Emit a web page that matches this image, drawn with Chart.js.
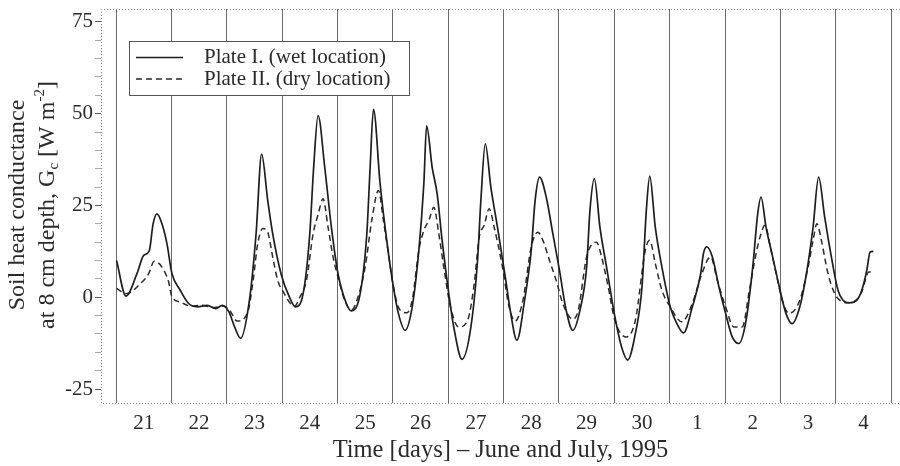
<!DOCTYPE html>
<html>
<head>
<meta charset="utf-8">
<script src="https://cdn.jsdelivr.net/npm/chart.js@4"></script>
<style>
    html, body { margin: 0; padding: 0; background: #fff; }
    #wrap { width: 900px; height: 466px; }
</style>
</head>
<body>
<div id="wrap"><canvas id="heatChart" width="900" height="466"></canvas></div>
<script>
// day labels, centred in each day (June 21 .. July 4)
const dayLabels = ['21', '22', '23', '24', '25', '26', '27', '28', '29', '30', '1', '2', '3', '4'];
const yTickLabels = [-25, 0, 25, 50, 75];

// time in days since June 21 00:00, heat flux in W m-2
const wetTime = [0.01, 0.18, 0.38, 0.5, 0.6, 0.67, 0.74, 0.83, 0.92, 1.01, 1.16, 1.31, 1.47, 1.65, 1.8, 1.92, 2.04, 2.14, 2.25,
    2.41, 2.53, 2.63, 2.74, 2.83, 2.98, 3.13, 3.24, 3.38, 3.5, 3.57, 3.65, 3.77, 3.89, 4.01, 4.16, 4.25,
    4.41, 4.53, 4.59, 4.65, 4.77, 4.89, 5.01, 5.1, 5.22, 5.35, 5.47, 5.56, 5.61, 5.71, 5.8, 5.89, 6.01, 6.1, 6.25,
    6.41, 6.53, 6.59, 6.67, 6.77, 6.89, 7.04, 7.12, 7.24, 7.38, 7.5, 7.57, 7.65, 7.77, 7.89, 8.01, 8.13, 8.25,
    8.38, 8.5, 8.56, 8.64, 8.74, 8.86, 9.01, 9.13, 9.24, 9.38, 9.5, 9.58, 9.64, 9.74, 9.86, 10.01, 10.13, 10.25,
    10.41, 10.56, 10.61, 10.67, 10.77, 10.89, 11.01, 11.13, 11.25, 11.38, 11.5, 11.59, 11.65, 11.74, 11.86, 11.98,
    12.1, 12.21, 12.35, 12.47, 12.59, 12.69, 12.8, 12.92, 13.04, 13.13, 13.25, 13.38, 13.47, 13.56, 13.62, 13.68];
const wetFlux = [10, 0.3, 6.5, 11.4, 12.6, 20, 22.7, 20, 14.6, 6.5, 1.9, -1.7, -2.6, -2.2, -3.1, -2.2, -4, -8, -11.2,
    -0.8, 17.3, 39, 26.4, 17.3, 6.4, 0.1, -2.6, 1, 17.3, 35.4, 49.5, 35.4, 19.1, 6.4, -1.7, -3.7,
    1, 17.3, 35.4, 51.2, 30.9, 15.5, 2.8, -4.4, -9, -2.6, 12.8, 30.9, 46.7, 35.4, 28.2, 15.5, 1, -8.1, -16.9,
    -8.1, 10, 26.4, 41.8, 30, 19.1, 4.6, -3.5, -11.7, -0.8, 12.8, 26.4, 32.7, 27.3, 17.3, 7.3, -3.5, -9,
    -3.5, 8.2, 23.6, 32.3, 19.1, 8.2, -5.3, -13.5, -17.1, -9.9, 2.8, 24, 33, 19.1, 8.2, -2.6, -7.2, -9.7,
    -2.6, 6.4, 11.9, 13.7, 11, 2.8, -4.4, -10.8, -12.6, -6.3, 8.2, 22.7, 27.3, 19.1, 11, 2.8,
    -4.4, -7.2, -2.6, 6.4, 19.1, 32.7, 21.8, 11, 1.9, -0.8, -1.5, -0.8, 1.9, 7.3, 12.3, 12.5];

const dryTime = [0.01, 0.19, 0.44, 0.59, 0.69, 0.83, 0.95, 1.01, 1.16, 1.35, 1.55, 1.75, 1.94, 2.05, 2.19,
    2.38, 2.48, 2.56, 2.65, 2.74, 2.83, 2.92, 3.04, 3.13, 3.22, 3.32, 3.44, 3.56, 3.65, 3.74, 3.83, 3.92, 4.01,
    4.13, 4.25, 4.38, 4.5, 4.62, 4.74, 4.83, 4.92, 5.01, 5.13, 5.25, 5.35, 5.47, 5.56, 5.65, 5.74, 5.83, 5.92,
    6.04, 6.19, 6.35, 6.47, 6.56, 6.65, 6.74, 6.83, 6.98, 7.1, 7.21, 7.35, 7.5, 7.62, 7.71, 7.83, 7.95, 8.07,
    8.25, 8.35, 8.5, 8.68, 8.77, 8.89, 9.01, 9.22, 9.38, 9.56, 9.64, 9.74, 9.86, 10.01, 10.22, 10.41, 10.56,
    10.74, 10.86, 11.01, 11.16, 11.31, 11.44, 11.56, 11.65, 11.72, 11.83, 11.95, 12.04, 12.16, 12.35, 12.5,
    12.59, 12.66, 12.74, 12.86, 12.98, 13.07, 13.2, 13.35, 13.47, 13.56, 13.59, 13.65];
const dryFlux = [2.4, 1, 3.7, 6.4, 9.8, 8.2, 4.2, 0.1, -1.3, -2.4, -2.2, -2.8, -2.4, -3.5, -6.5,
    -4, 5, 14.6, 18.7, 17.7, 11, 4.6, 1, -1.3, -2.5, 0, 4.6, 17.3, 22.5, 26.8, 19.1, 11, 5.5,
    -0.8, -3.5, 0.5, 8.2, 21, 29.1, 20.9, 11.9, 2.8, -3.5, -4.2, -0.8, 12.8, 18.2, 20.9, 24.5, 17.3, 8.2,
    -2.6, -8.1, -6.3, 3.7, 16.4, 19.6, 24.1, 19.1, 8.2, -2.6, -6.5, -0.8, 13.7, 17.7, 15.5, 10, 4.6, -1.7,
    -6, -3.5, 11, 15, 11, 2.8, -6.3, -10.8, -6.3, 12.8, 15.5, 9.2, 1.9, -2.6, -6.7, -1.7, 5.5,
    11, 4.6, -2.6, -8.1, -8.1, 1.9, 11.9, 17.3, 19.6, 12.8, 4.6, -1.2, -4.4, -0.8, 8.2,
    15.5, 20, 15.5, 6.4, 1, -0.8, -1.5, -1, 1.5, 6, 6.9, 6.9];

const serif = '"Liberation Serif", "Times New Roman", serif';
const inkColor = '#2a2a2a';

// dotted plot frame, y axis title with sub/superscript, and boxed legend
const extrasPlugin = {
    id: 'extras',
    afterDraw(chart) {
        const ctx = chart.ctx;
        const area = chart.chartArea;
        ctx.save();

        // dotted frame: top, left, bottom
        ctx.strokeStyle = '#8a8a8a';
        ctx.lineWidth = 1;
        ctx.setLineDash([1, 2]);
        ctx.beginPath();
        ctx.moveTo(area.right, area.top + 0.5);
        ctx.lineTo(area.left + 0.5, area.top + 0.5);
        ctx.lineTo(area.left + 0.5, area.bottom + 0.5);
        ctx.lineTo(area.right, area.bottom + 0.5);
        ctx.stroke();
        ctx.setLineDash([]);

        // y axis title, two rotated lines
        const midY = (area.top + area.bottom) / 2 - 1;
        const lines = [
            { x: 18, parts: [{ t: 'Soil heat conductance' }] },
            { x: 48, parts: [{ t: 'at 8 cm depth, G' }, { t: 'c', sub: true }, { t: ' [W m' }, { t: '-2', sup: true }, { t: ']' }] }
        ];
        ctx.fillStyle = inkColor;
        ctx.textBaseline = 'middle';
        lines.forEach(line => {
            let total = 0;
            line.parts.forEach(p => {
                ctx.font = (p.sub || p.sup ? 15 : 24) + 'px ' + serif;
                p.w = ctx.measureText(p.t).width;
                total += p.w;
            });
            ctx.save();
            ctx.translate(line.x, midY);
            ctx.rotate(-Math.PI / 2);
            let cx = -total / 2;
            line.parts.forEach(p => {
                ctx.font = (p.sub || p.sup ? 15 : 24) + 'px ' + serif;
                const dy = p.sub ? 6 : (p.sup ? -8 : 0);
                ctx.textAlign = 'left';
                ctx.fillText(p.t, cx, dy);
                cx += p.w;
            });
            ctx.restore();
        });

        // legend box
        const bx = area.left + 28, by = area.top + 32, bw = 280, bh = 54;
        ctx.fillStyle = '#fff';
        ctx.fillRect(bx, by, bw, bh);
        ctx.strokeStyle = '#555';
        ctx.lineWidth = 1;
        ctx.strokeRect(bx + 0.5, by + 0.5, bw, bh);
        chart.data.datasets.forEach((ds, i) => {
            const ly = by + 16.5 + i * 21.5;
            ctx.strokeStyle = ds.borderColor;
            ctx.lineWidth = ds.borderWidth;
            ctx.setLineDash(ds.borderDash || []);
            ctx.beginPath();
            ctx.moveTo(bx + 7, ly);
            ctx.lineTo(bx + 54, ly);
            ctx.stroke();
            ctx.setLineDash([]);
            ctx.fillStyle = inkColor;
            ctx.font = '21px ' + serif;
            ctx.textAlign = 'left';
            ctx.textBaseline = 'middle';
            ctx.fillText(ds.label, bx + 75, ly);
        });
        ctx.restore();
    }
};

const heatCtx = document.getElementById('heatChart').getContext('2d');

new Chart(heatCtx, {
    type: 'line',
    data: {
        datasets: [{
            label: 'Plate I. (wet location)',
            data: wetTime.map((t, i) => ({ x: t, y: wetFlux[i] })),
            borderColor: '#1e1e1e',
            borderWidth: 1.7,
            pointRadius: 0,
            cubicInterpolationMode: 'monotone',
            fill: false
        }, {
            label: 'Plate II. (dry location)',
            data: dryTime.map((t, i) => ({ x: t, y: dryFlux[i] })),
            borderColor: '#2a2a2a',
            borderWidth: 1.5,
            borderDash: [6, 4],
            pointRadius: 0,
            cubicInterpolationMode: 'monotone',
            fill: false
        }]
    },
    options: {
        responsive: false,
        animation: false,
        devicePixelRatio: 1,
        layout: { padding: { top: 9, right: 0, left: 0, bottom: 0 } },
        plugins: {
            legend: { display: false },
            tooltip: { enabled: false }
        },
        scales: {
            x: {
                type: 'linear',
                min: -0.271,
                max: 14.16,
                afterFit: scale => {
                    scale.height = 63;
                    scale.paddingLeft = 0;
                    scale.paddingRight = 0;
                },
                afterBuildTicks: scale => {
                    const ticks = [];
                    for (let d = 0; d <= 14; d++) {
                        ticks.push({ value: d });
                        if (d < dayLabels.length) ticks.push({ value: d + 0.5 });
                    }
                    scale.ticks = ticks;
                },
                grid: {
                    drawTicks: false,
                    lineWidth: 1,
                    color: ctx => (ctx.tick && Number.isInteger(ctx.tick.value)) ? '#6a6a6a' : 'rgba(0,0,0,0)'
                },
                border: { display: false },
                ticks: {
                    autoSkip: false,
                    maxRotation: 0,
                    padding: 8,
                    color: inkColor,
                    font: { family: serif, size: 21 },
                    callback: value => Number.isInteger(value) ? '' : dayLabels[Math.floor(value)]
                },
                title: {
                    display: true,
                    text: 'Time [days] \u2013 June and July, 1995',
                    color: inkColor,
                    font: { family: serif, size: 24.5 },
                    padding: { top: 0, bottom: 1 }
                }
            },
            y: {
                min: -28.8,
                max: 78.5,
                afterFit: scale => {
                    scale.width = 101;
                    scale.paddingTop = 0;
                    scale.paddingBottom = 0;
                },
                afterBuildTicks: scale => {
                    const ticks = [];
                    for (let v = -25; v <= 75; v += 5) ticks.push({ value: v });
                    scale.ticks = ticks;
                },
                grid: {
                    drawOnChartArea: false,
                    drawTicks: true,
                    tickLength: 6,
                    tickColor: ctx => yTickLabels.includes(ctx.tick && ctx.tick.value) ? '#555' : '#aaa'
                },
                border: { display: false },
                ticks: {
                    autoSkip: false,
                    padding: 2,
                    color: inkColor,
                    font: { family: serif, size: 21 },
                    callback: value => yTickLabels.includes(value) ? String(value) : ''
                }
            }
        }
    },
    plugins: [extrasPlugin]
});
</script>
</body>
</html>
